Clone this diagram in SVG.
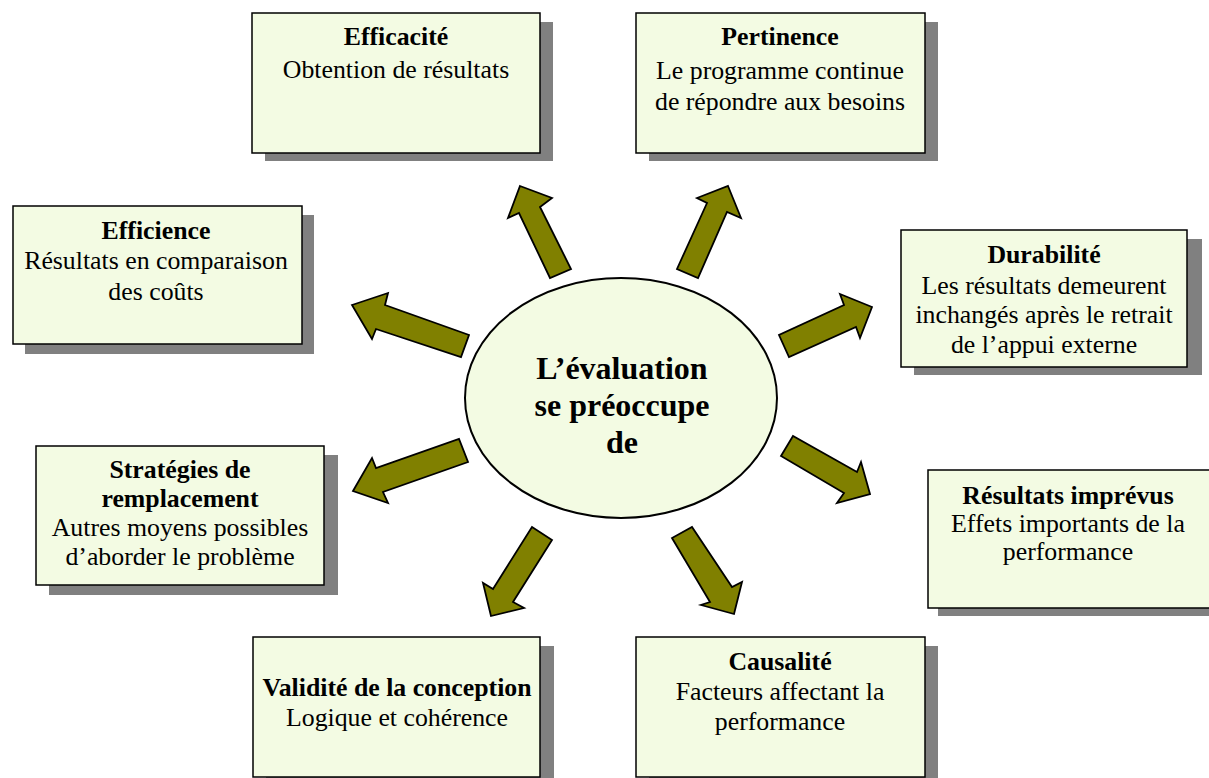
<svg xmlns="http://www.w3.org/2000/svg" width="1209" height="778" viewBox="0 0 1209 778">
<style>
.shadow{fill:#808080;stroke:none}
.box{fill:#F3FBE3;stroke:#000;stroke-width:1.5}
.arrow{fill:#808000;stroke:#000;stroke-width:1.8;stroke-linejoin:miter}
text{font-family:'Liberation Serif','Times New Roman','DejaVu Serif',serif;font-size:25.8px;text-anchor:middle;fill:#000}
.t{font-weight:bold}
.c{font-weight:bold;font-size:32px}
</style>
<rect width="1209" height="778" fill="#fff"/>
<g id="connectors">
<polygon class="arrow" points="520,186 552,198 540,207 571,269 550,278 519,213 508,218"/>
<polygon class="arrow" points="728,186 741,218 727,212 698,278 677,269 707,203 697,198"/>
<polygon class="arrow" points="352,305 388,293 385,305 469,335 461,357 376,329 372,339"/>
<polygon class="arrow" points="872,307 840,294 844,305 779,335 789,357 856,327 860,338"/>
<polygon class="arrow" points="353,491 372,458 376,468 459,439 468,462 383,492 388,503"/>
<polygon class="arrow" points="870,494 861,462 857,472 793,436 781,456 844,493 837,503"/>
<polygon class="arrow" points="491,616 483,583 493,589 532,527 552,540 513,602 524,608"/>
<polygon class="arrow" points="734,614 742,582 732,587 692,527 672,538 710,602 701,605"/>
</g>
<g id="center">
<ellipse cx="621" cy="398" rx="156" ry="120" fill="#F3FBE3" stroke="#000" stroke-width="2"/>
<text class="c" x="622" y="379">L’évaluation</text>
<text class="c" x="622" y="416">se préoccupe</text>
<text class="c" x="622" y="453">de</text>
</g>
<g id="efficacite">
<rect class="shadow" x="265" y="22" width="288" height="139"/>
<rect class="box" x="252" y="13" width="288" height="140"/>
<text class="t" x="396" y="45">Efficacité</text>
<text x="396" y="78">Obtention de résultats</text>
</g>
<g id="pertinence">
<rect class="shadow" x="649" y="22" width="289" height="139"/>
<rect class="box" x="636" y="13" width="289" height="140"/>
<text class="t" x="780" y="45">Pertinence</text>
<text x="780" y="79">Le programme continue</text>
<text x="780" y="110">de répondre aux besoins</text>
</g>
<g id="efficience">
<rect class="shadow" x="25" y="215" width="289" height="139"/>
<rect class="box" x="13" y="206" width="289" height="138"/>
<text class="t" x="156" y="239">Efficience</text>
<text x="156" y="269">Résultats en comparaison</text>
<text x="156" y="300">des coûts</text>
</g>
<g id="durabilite">
<rect class="shadow" x="914" y="239" width="288" height="136"/>
<rect class="box" x="901" y="230" width="286" height="137"/>
<text class="t" x="1044" y="263">Durabilité</text>
<text x="1044" y="294">Les résultats demeurent</text>
<text x="1044" y="323">inchangés après le retrait</text>
<text x="1044" y="353">de l’appui externe</text>
</g>
<g id="strategies">
<rect class="shadow" x="49" y="455" width="289" height="140"/>
<rect class="box" x="36" y="446" width="288" height="139"/>
<text class="t" x="180" y="478">Stratégies de</text>
<text class="t" x="180" y="507">remplacement</text>
<text x="180" y="536">Autres moyens possibles</text>
<text x="180" y="565">d’aborder le problème</text>
</g>
<g id="imprevus">
<rect class="shadow" x="938" y="479" width="288" height="137"/>
<rect class="box" x="928" y="470" width="288" height="138"/>
<text class="t" x="1068" y="504">Résultats imprévus</text>
<text x="1068" y="532">Effets importants de la</text>
<text x="1068" y="560">performance</text>
</g>
<g id="validite">
<rect class="shadow" x="266" y="646" width="288" height="140"/>
<rect class="box" x="253" y="637" width="287" height="140"/>
<text class="t" x="397" y="696">Validité de la conception</text>
<text x="397" y="726">Logique et cohérence</text>
</g>
<g id="causalite">
<rect class="shadow" x="649" y="646" width="289" height="140"/>
<rect class="box" x="636" y="637" width="289" height="140"/>
<text class="t" x="780" y="670">Causalité</text>
<text x="780" y="700">Facteurs affectant la</text>
<text x="780" y="730">performance</text>
</g>
</svg>
